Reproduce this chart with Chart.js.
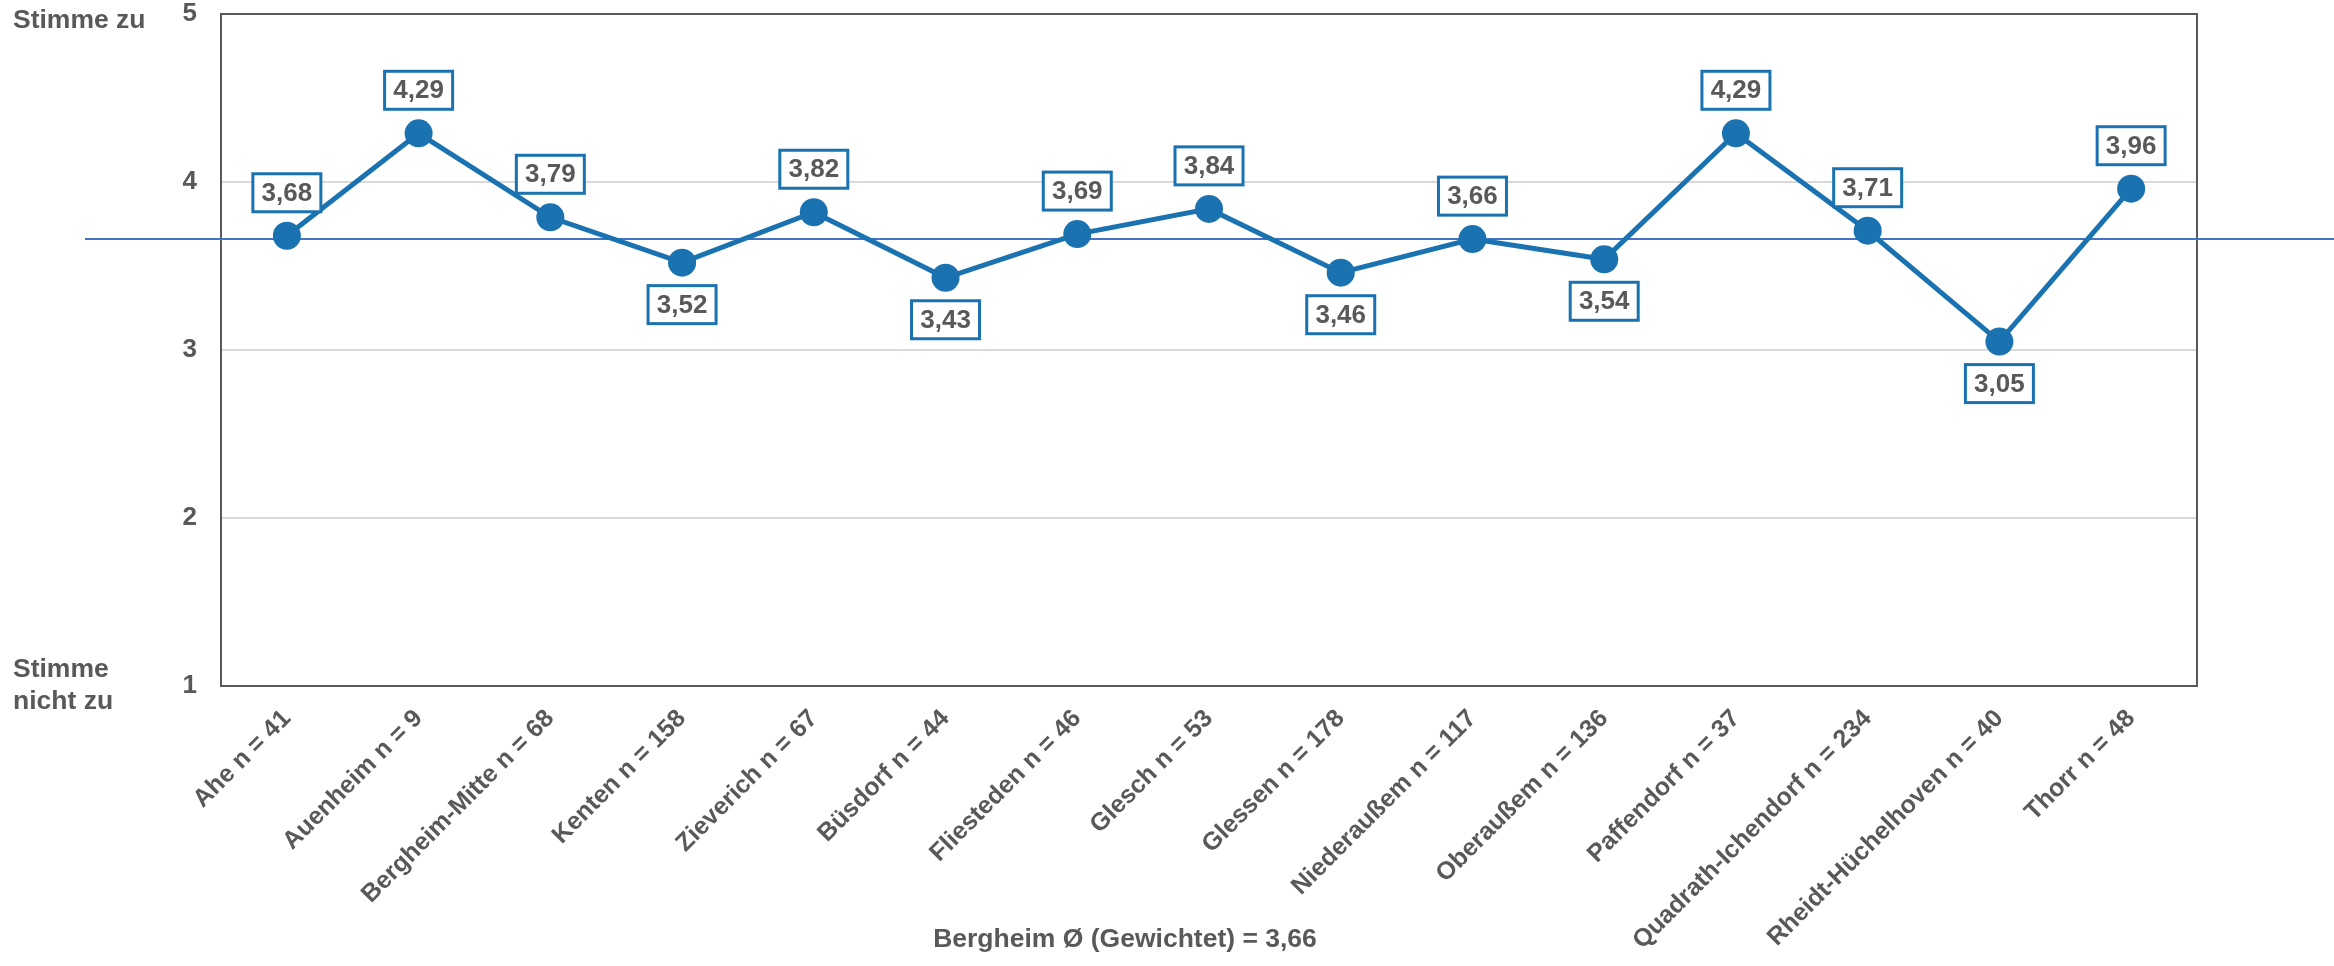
<!DOCTYPE html>
<html>
<head>
<meta charset="utf-8">
<script src="https://cdn.jsdelivr.net/npm/chart.js@4.4.0/dist/chart.umd.min.js"></script>
<style>
	html, body { margin: 0; padding: 0; background: #fff; }
	#wrap { width: 2334px; height: 966px; }
</style>
</head>
<body>
<div id="wrap"><canvas id="graphicDistricts" width="2334" height="966"></canvas></div>
<script>
var districts = ['Ahe', 'Auenheim', 'Bergheim-Mitte', 'Kenten', 'Zieverich', 'Büsdorf', 'Fliesteden', 'Glesch',
	'Glessen', 'Niederaußem', 'Oberaußem', 'Paffendorf', 'Quadrath-Ichendorf', 'Rheidt-Hüchelhoven', 'Thorr'];
var sampleSizes = [41, 9, 68, 158, 67, 44, 46, 53, 178, 117, 136, 37, 234, 40, 48];
var meanValues = [3.68, 4.29, 3.79, 3.52, 3.82, 3.43, 3.69, 3.84, 3.46, 3.66, 3.54, 4.29, 3.71, 3.05, 3.96];
var yTicks = [1, 2, 3, 4, 5];
var averageBergheim = 3.66;
var averageLabel = 'Bergheim Ø (Gewichtet) = 3,66';
var scaleTopLabel = ['Stimme zu'];
var scaleBottomLabel = ['Stimme', 'nicht zu'];

var Bergheim = Bergheim || {};

Bergheim.DistrictChart = (function() {

	var BLUE = '#1a72b0';
	var GREY = '#595959';
	var FONT = '"Liberation Sans", Arial, sans-serif';

	function DistrictChart() {
		this.ctx = document.getElementById('graphicDistricts').getContext('2d');
	}

	function formatValue(v) {
		return v.toFixed(2).replace('.', ',');
	}

	var framePlugin = {
		id: 'frame',
		beforeDatasetsDraw: function(chart) {
			var ctx = chart.ctx;
			var area = chart.chartArea;
			var y = chart.scales.y.getPixelForValue(averageBergheim);
			ctx.save();
			ctx.strokeStyle = GREY;
			ctx.lineWidth = 2;
			ctx.strokeRect(area.left, area.top, area.right - area.left, area.bottom - area.top);
			// average line runs past the plot on both sides
			ctx.strokeStyle = '#4472c4';
			ctx.lineWidth = 2;
			ctx.beginPath();
			ctx.moveTo(85, y);
			ctx.lineTo(chart.width, y);
			ctx.stroke();
			ctx.restore();
		}
	};

	var valueLabelPlugin = {
		id: 'valueLabels',
		afterDatasetsDraw: function(chart) {
			var ctx = chart.ctx;
			var meta = chart.getDatasetMeta(0);
			ctx.save();
			ctx.font = 'bold 26px ' + FONT;
			ctx.textAlign = 'center';
			ctx.textBaseline = 'middle';
			meta.data.forEach(function(point, i) {
				var v = meanValues[i];
				var cy = v < averageBergheim ? point.y + 42 : point.y - 43;
				var w = 68, h = 38;
				ctx.fillStyle = '#fff';
				ctx.fillRect(point.x - w / 2, cy - h / 2, w, h);
				ctx.strokeStyle = BLUE;
				ctx.lineWidth = 3;
				ctx.strokeRect(point.x - w / 2, cy - h / 2, w, h);
				ctx.fillStyle = GREY;
				ctx.fillText(formatValue(v), point.x, cy + 1);
			});
			ctx.restore();
		}
	};

	var textPlugin = {
		id: 'sideTexts',
		afterDraw: function(chart) {
			var ctx = chart.ctx;
			ctx.save();
			ctx.fillStyle = GREY;
			ctx.font = 'bold 26.5px ' + FONT;
			ctx.textAlign = 'left';
			ctx.textBaseline = 'middle';
			scaleTopLabel.forEach(function(t, i) {
				ctx.fillText(t, 13, 21 + i * 32);
			});
			scaleBottomLabel.forEach(function(t, i) {
				ctx.fillText(t, 13, 670 + i * 32);
			});
			ctx.textAlign = 'center';
			ctx.fillText(averageLabel, 1125, 940);
			ctx.restore();
		}
	};

	DistrictChart.prototype.init = function() {
		var labels = districts.map(function(d, i) {
			return d + ' n = ' + sampleSizes[i];
		});

		new Chart(this.ctx, {
			type: 'line',
			data: {
				labels: labels,
				datasets: [{
					data: meanValues,
					borderColor: BLUE,
					borderWidth: 5,
					backgroundColor: BLUE,
					pointBackgroundColor: BLUE,
					pointBorderWidth: 0,
					pointRadius: 14,
					tension: 0,
					fill: false
				}]
			},
			options: {
				responsive: false,
				animation: false,
				layout: { padding: { top: 2, right: 137, left: 0, bottom: 0 } },
				plugins: {
					legend: { display: false },
					tooltip: { enabled: false }
				},
				scales: {
					x: {
						offset: true,
						grid: { display: false, drawTicks: false },
						border: { display: false },
						ticks: {
							color: GREY,
							font: { family: FONT, size: 25, weight: 'bold' },
							minRotation: 45,
							maxRotation: 45,
							autoSkip: false,
							padding: 18
						},
						afterFit: function(scale) { scale.height = 280; }
					},
					y: {
						min: yTicks[0],
						max: yTicks[yTicks.length - 1],
						afterBuildTicks: function(scale) {
							scale.ticks = yTicks.map(function(v) { return { value: v }; });
						},
						grid: {
							color: function(c) {
								return (c.tick && (c.tick.value === 1 || c.tick.value === 5)) ? 'rgba(0,0,0,0)' : '#d9d9d9';
							},
							lineWidth: 2,
							drawTicks: false
						},
						border: { display: false },
						ticks: {
							color: GREY,
							font: { family: FONT, size: 26, weight: 'bold' },
							padding: 24
						},
						afterFit: function(scale) {
							scale.width = 221;
							scale.paddingTop = 0;
							scale.paddingBottom = 0;
						}
					}
				}
			},
			plugins: [framePlugin, valueLabelPlugin, textPlugin]
		});
	};

	return DistrictChart;

}());

var districtChart = new Bergheim.DistrictChart();
districtChart.init();
</script>
</body>
</html>
